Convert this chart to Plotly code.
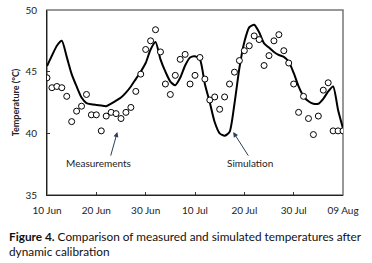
import pandas as pd
import plotly.graph_objects as go

# Dates (daily, 10 Jun .. 09 Aug)
dates = pd.date_range("2013-06-10", "2013-08-09", freq="D")

# Measured temperatures (°C)
measured = [44.5, 43.7, 43.8, 43.7, 43.0, 40.95, 41.8, 42.2, 43.15, 41.5,
            41.5, 40.2, 41.4, 41.7, 41.6, 41.2, 41.7, 42.1, 43.4, 44.8,
            46.8, 47.5, 48.4, 46.6, 44.0, 43.15, 44.7, 46.0, 46.4, 44.0,
            44.7, 46.15, 44.4, 42.7, 42.95, 41.95, 42.95, 44.0, 44.96, 45.9,
            46.7, 47.1, 47.9, 47.6, 45.5, 46.3, 47.5, 48.0, 46.7, 45.7,
            44.0, 41.7, 43.0, 41.2, 39.9, 41.4, 43.5, 44.1, 40.2, 40.2, 40.2]

# Simulated temperatures (°C)
simulated = [45.45, 46.3, 47.1, 47.5, 46.2, 44.8, 43.8, 42.9, 42.45, 42.35,
             42.3, 42.25, 42.2, 42.4, 42.65, 42.9, 43.3, 43.8, 44.4, 45.0,
             45.7, 46.8, 47.4, 46.0, 45.0, 44.2, 43.9, 44.5, 45.5, 46.15,
             46.25, 46.0, 44.0, 42.5, 40.9, 40.0, 39.8, 40.1, 42.4, 45.3,
             47.4, 48.6, 48.8, 48.2, 47.3, 46.95, 46.6, 46.35, 46.2, 45.8,
             44.9, 43.8, 43.0, 42.6, 42.4, 42.4, 42.8, 43.4, 43.8, 41.9, 40.4]

FONT = "Lato, Open Sans, sans-serif"

fig = go.Figure()
fig.add_trace(go.Scatter(
    x=dates, y=simulated, mode="lines",
    line=dict(color="black", width=2, shape="spline", smoothing=0.6),
    name="Simulation", showlegend=False))
fig.add_trace(go.Scatter(
    x=dates, y=measured, mode="markers",
    marker=dict(symbol="circle", size=6, color="white",
                line=dict(color="black", width=1)),
    name="Measurements", showlegend=False))

axis_common = dict(showgrid=False, zeroline=False, ticks="inside", ticklen=3,
                   tickcolor="#333", showline=True, linecolor="#222", linewidth=1,
                   mirror=False, automargin=False,
                   tickfont=dict(family=FONT, size=10, color="#222"))

fig.update_xaxes(range=["2013-06-10", "2013-08-09"], tick0="2013-06-10",
                 dtick=10 * 86400000, tickformat="%d %b",
                 ticklabelstandoff=6, **axis_common)
fig.update_yaxes(range=[35, 50], dtick=5, ticklabelstandoff=7,
                 title=dict(text="<b>Temperature (°C)</b>",
                            font=dict(family=FONT, size=9, color="#222"),
                            standoff=4),
                 **axis_common)

# gray frame (top/right)
fig.add_shape(type="rect", xref="paper", yref="paper", x0=0, y0=0, x1=1, y1=1,
              line=dict(color="#777", width=1.5), layer="below")

# annotation arrows and labels
fig.add_annotation(x="2013-06-24 06:00", y=40.1, text="", showarrow=True,
                   arrowhead=2, arrowsize=1, arrowwidth=1, ax=-7, ay=25)
fig.add_annotation(x="2013-06-24 06:00", y=40.1, text="Measurements", showarrow=False,
                   xshift=-19, yshift=-31,
                   font=dict(family=FONT, size=10, color="#222"))
fig.add_annotation(x="2013-07-17 18:00", y=40.1, text="", showarrow=True,
                   arrowhead=2, arrowsize=1, arrowwidth=1, ax=16, ay=25)
fig.add_annotation(x="2013-07-17 18:00", y=40.1, text="Simulation", showarrow=False,
                   xshift=17, yshift=-31,
                   font=dict(family=FONT, size=10, color="#222"))

# caption
fig.add_annotation(xref="paper", yref="paper", x=-0.135, y=-0.173,
                   xanchor="left", yanchor="top", align="left", showarrow=False,
                   text="<b>Figure 4.</b> Comparison of measured and simulated temperatures after<br>dynamic calibration",
                   font=dict(family=FONT, size=11.8, color="#111"))

fig.update_layout(width=372, height=263, margin=dict(l=47, r=29, t=10, b=68),
                  paper_bgcolor="white", plot_bgcolor="white")

fig.write_html("out.html", config={"displayModeBar": False},
               post_script="document.body.style.margin='0';document.body.style.overflow='hidden';")
